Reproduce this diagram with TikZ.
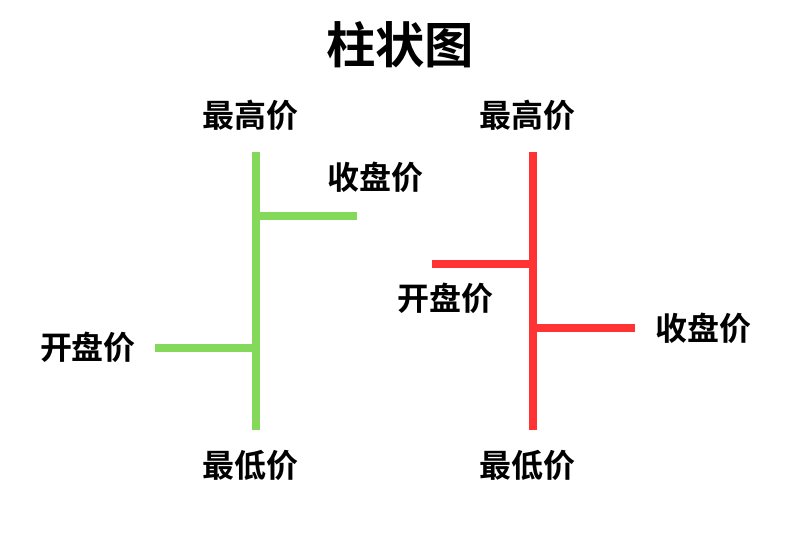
\documentclass[tikz,border=0pt]{standalone}
\usepackage{fontspec}
\setmainfont{Noto Sans CJK SC Bold}
\definecolor{upgreen}{HTML}{85D95A}
\definecolor{downred}{HTML}{FF3333}
\tikzset{
  price/.style={font=\fontsize{24}{26}\selectfont, inner sep=0pt},
  bar/.style={line width=6pt, line cap=butt}
}
\begin{document}
\begin{tikzpicture}[x=0.75pt, y=-0.75pt]
  \useasboundingbox (0,0) rectangle (800,533);

  % title
  \node [font=\fontsize{37}{40}\selectfont, inner sep=0pt] (title) at (400,45) {柱状图};

  % green bar
  \coordinate (gtop) at (256,152);
  \coordinate (gbot) at (256,430);
  \coordinate (gclose) at (357,216);
  \coordinate (gopen) at (155,348);
  \draw [bar, upgreen] (gtop) -- (gbot);
  \draw [bar, upgreen] (gtop |- gclose) -- (gclose);
  \draw [bar, upgreen] (gopen) -- (gtop |- gopen);

  \node [price] (ghigh) at (250,115) {最高价};
  \node [price] (gclosel) at (375,177) {收盘价};
  \node [price] (gopenl) at (88,347) {开盘价};
  \node [price] (glow) at (250,465) {最低价};

  % red bar
  \coordinate (rtop) at (533,152);
  \coordinate (rbot) at (533,430);
  \coordinate (ropen) at (432,264);
  \coordinate (rclose) at (635,328);
  \draw [bar, downred] (rtop) -- (rbot);
  \draw [bar, downred] (ropen) -- (rtop |- ropen);
  \draw [bar, downred] (rtop |- rclose) -- (rclose);

  \node [price] (rhigh) at (527,115) {最高价};
  \node [price] (ropenl) at (445,298) {开盘价};
  \node [price] (rclosel) at (703,328) {收盘价};
  \node [price] (rlow) at (527,465) {最低价};
\end{tikzpicture}
\end{document}
